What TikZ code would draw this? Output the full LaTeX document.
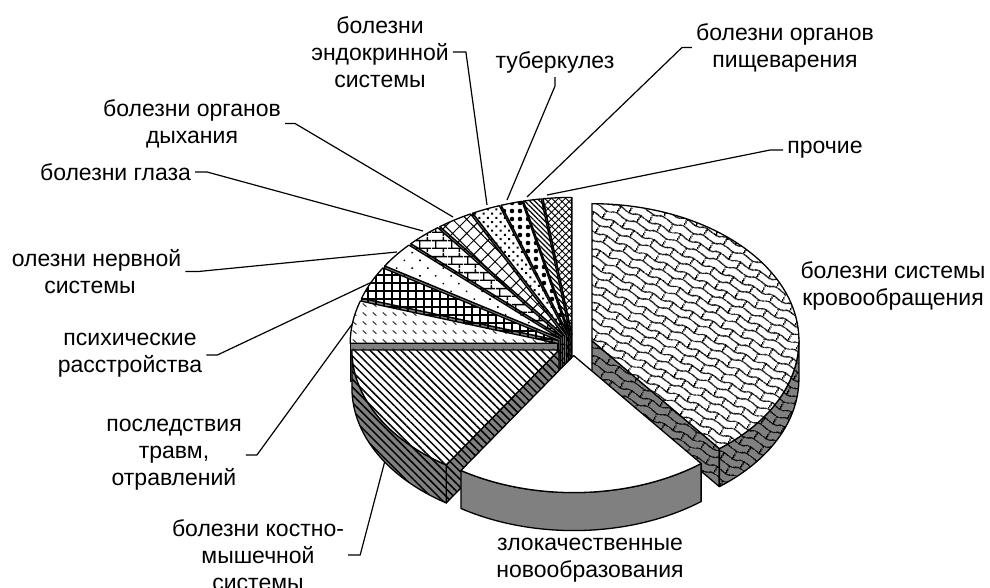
\documentclass[tikz,border=0pt]{standalone}
\usepackage{fontspec}
\setmainfont{Liberation Sans}
\usetikzlibrary{patterns,patterns.meta}
\definecolor{sidegray}{RGB}{128,128,128}

\tikzdeclarepattern{name=scales, type=uncolored,
  bounding box={(0pt,0pt) and (22pt,16pt)}, tile size={(22pt,16pt)},
  tile transformation={rotate=-25},
  code={
    \draw[line width=1.3pt] (0pt,3pt) .. controls (5.5pt,7.5pt) and (16.5pt,-1.5pt) .. (22pt,3pt);
    \draw[line width=1.3pt] (0pt,11pt) .. controls (5.5pt,15.5pt) and (16.5pt,6.5pt) .. (22pt,11pt);
    \draw[line width=1.3pt] (5pt,5pt) -- (6pt,13pt) (16pt,9pt) -- (16.5pt,16pt) (16.5pt,0pt) -- (17pt,2pt);
  }}
\tikzdeclarepattern{name=brickrow, type=uncolored,
  bounding box={(0pt,0pt) and (16pt,16pt)}, tile size={(16pt,16pt)},
  code={
    \draw[line width=1.4pt] (0pt,4pt) -- (16pt,4pt) (0pt,12pt) -- (16pt,12pt)
      (4pt,4pt) -- (4pt,12pt) (12pt,12pt) -- (12pt,16pt) (12pt,0pt) -- (12pt,4pt);
  }}
\tikzdeclarepattern{name=dashrow, type=uncolored,
  bounding box={(0pt,0pt) and (10pt,9pt)}, tile size={(10pt,9pt)},
  code={
    \draw[line width=1.2pt] (3pt,6pt) -- (7pt,2.5pt);
  }}

\tikzset{
  side/.style={fill=sidegray},
  top/.style={fill=white},
  outline/.style={postaction={draw=black,line width=1.3pt,line join=round}},
  leader/.style={line width=1.2pt},
  lbl/.style={align=center,inner sep=4pt},
  pat circ/.style={postaction={pattern=scales}},
  pat musc/.style={postaction={pattern={Lines[angle=-45,distance=5.5pt,line width=1.5pt]}}},
  pat trauma/.style={postaction={pattern=dashrow,pattern color=black!75}},
  pat psy/.style={postaction={pattern={Hatch[angle=0,distance=8pt,line width=1.5pt]}}},
  pat nerv/.style={postaction={pattern={Dots[angle=45,distance=11pt,radius=1.1pt]}}},
  pat eye/.style={postaction={pattern=brickrow}},
  pat resp/.style={postaction={pattern={Hatch[angle=45,distance=10pt,line width=1pt]}}},
  pat endo/.style={postaction={pattern={Dots[angle=45,distance=6pt,radius=1.4pt]}}},
  pat tb/.style={postaction={pattern={Dots[distance=8pt,radius=2.3pt]}}},
  pat dig/.style={postaction={pattern={Lines[angle=-45,distance=3.5pt,line width=1.2pt]}}},
  pat other/.style={postaction={pattern={Hatch[angle=45,distance=5pt,line width=0.9pt]}}},
}

\def\rx{207} \def\ry{137} \def\h{38}
% one exploded slice: start angle, end angle, explode, pattern style
\newcommand\pieslice[4]{%
  \pgfmathsetmacro\bis{(#1+#2)/2}%
  \begin{scope}[shift={({#3*cos(\bis)},{#3*\ry/\rx*sin(\bis)})}]
  \pgfmathtruncatemacro\vis{cos(#1)>0.01}%
  \ifnum\vis=1
    \path[side,#4,outline] (0,0) -- (#1:{\rx} and {\ry}) -- ++(0,-\h) -- (0,-\h) -- cycle;
  \fi
  \pgfmathtruncatemacro\vis{cos(#2)<-0.01}%
  \ifnum\vis=1
    \path[side,#4,outline] (0,0) -- (#2:{\rx} and {\ry}) -- ++(0,-\h) -- (0,-\h) -- cycle;
  \fi
  \pgfmathsetmacro\sa{max(#1,-180)}%
  \pgfmathsetmacro\ea{min(#2,0)}%
  \pgfmathtruncatemacro\vis{\ea>\sa+0.5}%
  \ifnum\vis=1
    \path[side,#4,outline] (\sa:{\rx} and {\ry}) arc[start angle=\sa,end angle=\ea,x radius=\rx,y radius=\ry]
      -- ++(0,-\h) arc[start angle=\ea,end angle=\sa,x radius=\rx,y radius=\ry] -- cycle;
  \fi
  \path[top,#4,outline] (0,0) -- (#1:{\rx} and {\ry}) arc[start angle=#1,end angle=#2,x radius=\rx,y radius=\ry] -- cycle;
  \end{scope}}

\begin{document}
\begin{tikzpicture}[x=1pt,y=1pt,font=\fontsize{23}{27}\selectfont,line join=round]
\useasboundingbox (0,0) rectangle (990,587);

% labels
\node[lbl] (lcirc) at (893,301) {болезни системы\\кровообращения};
\node[lbl] (lneo) at (590,27) {злокачественные\\новообразования};
\node[lbl] (lmusc) at (258,32) {болезни костно-\\мышечной\\системы};
\node[lbl] (ltrau) at (174,132) {последствия\\травм,\\отравлений};
\node[lbl] (lpsy) at (130,232) {психические\\расстройства};
\node[lbl] (lnerv) at (90,315.5) {\phantom{б}олезни нервной\\системы};
\node[lbl] (leye) at (115.5,415) {болезни глаза};
\node[lbl] (lresp) at (192,463.5) {болезни органов\\дыхания};
\node[lbl] (lendo) at (380,535) {болезни\\эндокринной\\системы};
\node[lbl] (ltb) at (555,525) {туберкулез};
\node[lbl] (ldig) at (785,539.5) {болезни органов\\пищеварения};
\node[lbl] (loth) at (825,437) {прочие};

% leader ends on the slices
\coordinate (emusc) at (387,134);
\coordinate (etrau) at (353,264);
\coordinate (epsy) at (372,305);
\coordinate (enerv) at (397,335);
\coordinate (eeye) at (423,356);
\coordinate (eresp) at (453,370);
\coordinate (eendo) at (487,382);
\coordinate (etb) at (507,387);
\coordinate (edig) at (527,390);
\coordinate (eoth) at (547,392);

\draw[leader] (lmusc.east) -- ++(12,0) -- (emusc);
\draw[leader] (ltrau.east) -- ++(11,0) -- (etrau);
\draw[leader] (lpsy.east) -- ++(11,0) -- (epsy);
\draw[leader] (lnerv.east) -- ++(13,0) -- (enerv);
\draw[leader] (leye.east) -- ++(12,0) -- (eeye);
\draw[leader] (lresp.east) -- ++(10,0) -- (eresp);
\draw[leader] (lendo.east) -- ++(13,0) -- (eendo);
\draw[leader] (ltb.south) -- ++(0,-9) -- (etb);
\draw[leader] (ldig.west) -- ++(-10,0) -- (edig);
\draw[leader] (loth.west) -- ++(-13,0) -- (eoth);

% the pie, back slices first
\begin{scope}[shift={(573,242)}]
\pieslice{90}{98}{16}{pat other}
\pieslice{98}{103}{16}{pat dig}
\pieslice{103}{109}{16}{pat tb}
\pieslice{109}{117}{16}{pat endo}
\pieslice{117}{127}{16}{pat resp}
\pieslice{127}{137}{16}{pat eye}
\pieslice{137}{148}{16}{pat nerv}
\pieslice{148}{162}{16}{pat psy}
\pieslice{162}{180}{16}{pat trauma}
\pieslice{-52}{90}{20}{pat circ}
\pieslice{-180}{-123}{16}{pat musc}
\pieslice{-123}{-52}{16}{}
\end{scope}
\end{tikzpicture}
\end{document}
